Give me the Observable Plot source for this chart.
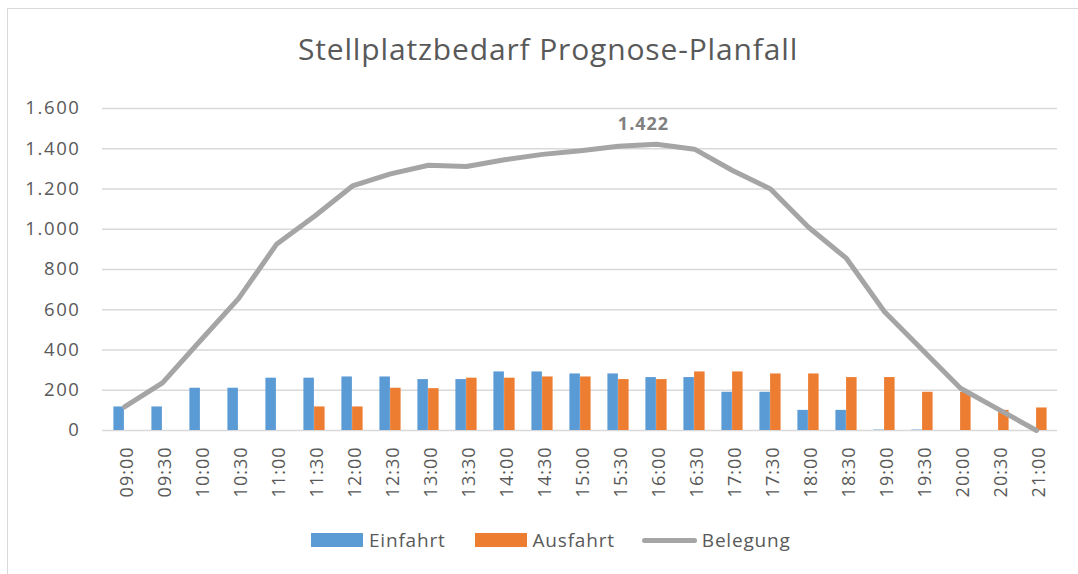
<!DOCTYPE html>
<html>
<head>
<meta charset="utf-8">
<script src="https://cdn.jsdelivr.net/npm/d3@7"></script>
<script src="https://cdn.jsdelivr.net/npm/@observablehq/plot@0.6"></script>
<style>
  html, body { margin: 0; padding: 0; background: #fff; overflow: hidden; width: 1078px; height: 574px; }
  body { position: relative; font-family: "Open Sans", sans-serif; color: #595959; }
  #frame { position: absolute; left: 7px; top: 8px; width: 1200px; height: 700px; border: 1px solid #d9d9d9; box-sizing: border-box; }
  #title { position: absolute; left: 0; width: 1096px; top: 28px; text-align: center; font-size: 30px; letter-spacing: 0.85px; color: #595959; }
  #chart { position: absolute; left: 0; top: 95px; }
  #chart svg text { letter-spacing: 1px; }
  #chart svg g.yax text { letter-spacing: 1.6px; }
  #legend { position: absolute; top: 527px; left: 311px; display: flex; align-items: center; font-size: 19px; color: #595959; letter-spacing: 0.8px; }
  .sw { display: inline-block; width: 52px; height: 14px; margin-right: 6px; }
  .ln { display: inline-block; width: 55px; height: 5px; border-radius: 3px; background: #a5a5a5; margin-right: 5px; }
  .item { display: flex; align-items: center; }
</style>
</head>
<body>
<div id="frame"></div>
<div id="title">Stellplatzbedarf Prognose-Planfall</div>
<div id="chart"></div>
<div id="legend">
  <span class="item"><span class="sw" style="background:#5b9bd5"></span>Einfahrt</span>
  <span class="item" style="margin-left:29px"><span class="sw" style="background:#ed7d31"></span>Ausfahrt</span>
  <span class="item" style="margin-left:27px"><span class="ln"></span>Belegung</span>
</div>
<script>
const zeiten = ["09:00","09:30","10:00","10:30","11:00","11:30","12:00","12:30","13:00","13:30","14:00","14:30","15:00","15:30","16:00","16:30","17:00","17:30","18:00","18:30","19:00","19:30","20:00","20:30","21:00"];
const einfahrt = [117,117,210,210,260,260,266,266,253,253,291,291,281,281,263,263,190,190,100,100,2,2,0,0,0];
const ausfahrt = [0,0,0,0,0,117,117,210,208,260,260,266,266,253,253,291,291,281,281,263,263,190,190,100,112];
const belegung = [117,237,447,655,925,1065,1215,1275,1318,1312,1345,1372,1390,1412,1422,1398,1292,1200,1010,855,590,400,210,105,0];
const yTicks = [0,200,400,600,800,1000,1200,1400,1600];

const rows = zeiten.map((t, i) => ({t, ein: einfahrt[i], aus: ausfahrt[i], bel: belegung[i]}));
const peakIdx = belegung.indexOf(d3.max(belegung));
const peak = [rows[peakIdx]];

const de = d3.formatLocale({decimal: ",", thousands: ".", grouping: [3], currency: ["", " €"]});
const fmt = de.format(",.0f");

const W = 1078, ML = 102, MR = 21, MT = 13, MB = 80;
const H = MT + 322 + MB;
const step = (W - ML - MR) / zeiten.length;
const half = step / 2;
const bw = step * 0.28;

const chart = Plot.plot({
  width: W,
  height: H,
  marginLeft: ML,
  marginRight: MR,
  marginTop: MT,
  marginBottom: MB,
  style: {fontFamily: "Open Sans, sans-serif", fontSize: "18px", color: "#595959", background: "transparent"},
  x: {domain: zeiten, padding: 0, label: null},
  y: {domain: [0, 1600], label: null},
  marks: [
    Plot.gridY(yTicks, {stroke: "#d9d9d9", strokeOpacity: 1, strokeWidth: 1.4}),
    Plot.barY(rows, {x: "t", y: "ein", fill: "#5b9bd5", insetLeft: half - bw, insetRight: half}),
    Plot.barY(rows, {x: "t", y: "aus", fill: "#ed7d31", insetLeft: half, insetRight: half - bw}),
    Plot.line(rows, {x: "t", y: "bel", stroke: "#a5a5a5", strokeWidth: 5, strokeLinejoin: "round", strokeLinecap: "round"}),
    Plot.text(peak, {x: "t", y: "bel", text: d => fmt(d.bel), dy: -20, dx: -13, fontWeight: "bold", fontSize: 18, fill: "#808080"}),
    Plot.axisY(yTicks, {tickSize: 0, tickPadding: 22, tickFormat: fmt, fill: "#595959", fontSize: 18.5, label: null, className: "yax"}),
    Plot.axisX({tickSize: 0, tickRotate: -90, tickPadding: 16, fill: "#595959", fontSize: 18, label: null, dx: 3})
  ]
});
document.getElementById("chart").appendChild(chart);
</script>
</body>
</html>
